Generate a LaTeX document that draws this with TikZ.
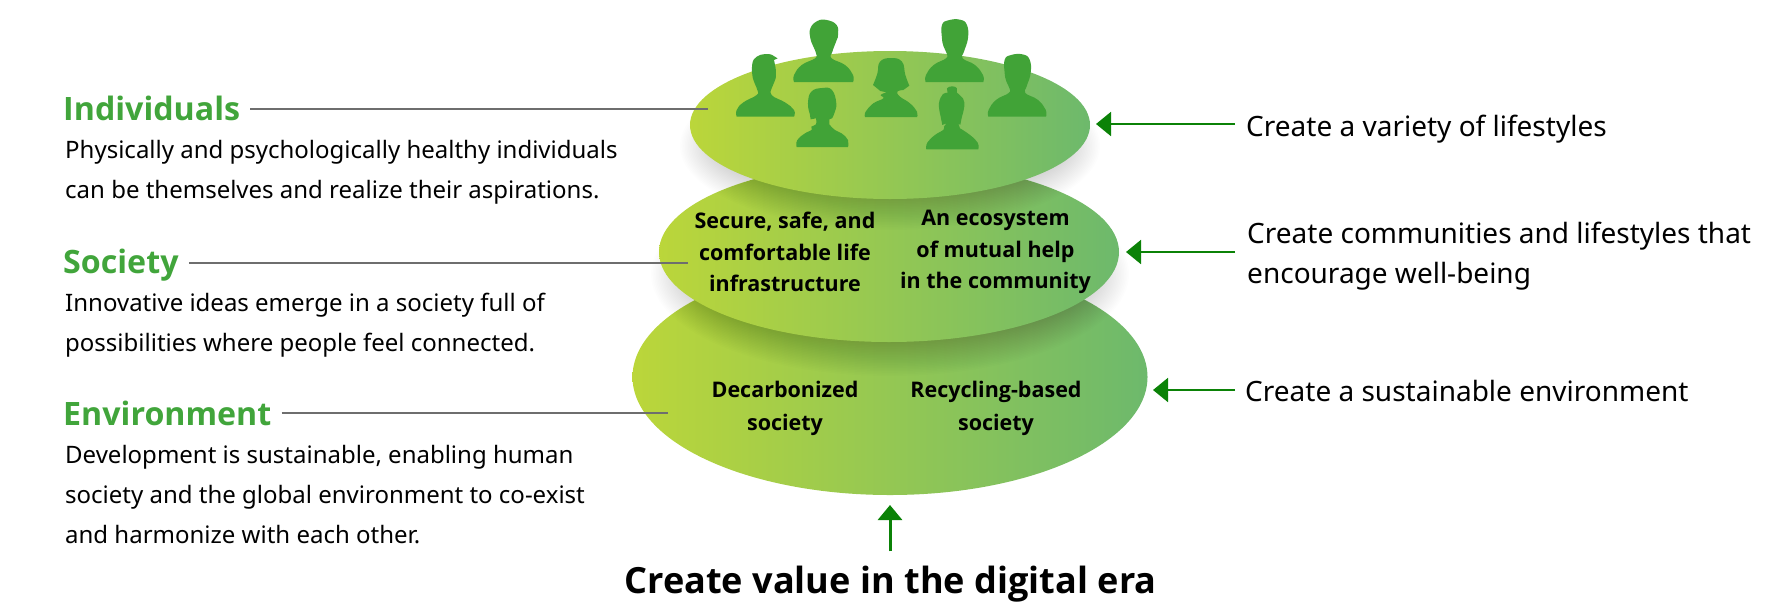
\documentclass[tikz,border=0pt]{standalone}
\usepackage{fontspec}
\setmainfont{Noto Sans}
\newfontfamily\bfam{Open Sans}
\usetikzlibrary{arrows.meta,shapes.geometric}
\definecolor{gL}{HTML}{BBD63A}
\definecolor{gR}{HTML}{6DB96C}
\definecolor{head}{HTML}{41A53B}
\definecolor{sil}{HTML}{41A337}
\definecolor{arrowG}{HTML}{0B8207}
\definecolor{lead}{HTML}{6E6E6E}
\tikzset{
  x=1pt,y=-1pt,
  disc/.style={ellipse,inner sep=0,left color=gL,right color=gR,shading angle=90},
  heading/.style={anchor=base west,inner sep=0,text=head,font=\bfam\fontsize{32.2}{36}\selectfont\bfseries},
  bodytxt/.style={anchor=north west,inner sep=0,align=left,font=\fontsize{24}{40}\selectfont},
  righttxt/.style={anchor=base west,inner sep=0,align=left,font=\fontsize{28}{40}\selectfont},
  disclabel/.style={anchor=center,inner sep=0,align=center,font=\bfam\fontsize{21.5}{31.4}\selectfont\bfseries},
  disclabelB/.style={anchor=center,inner sep=0,align=center,font=\bfam\fontsize{21.5}{33}\selectfont\bfseries},
  leader/.style={draw=lead,line width=1.3pt},
  arr/.style={draw=arrowG,line width=2pt,-{Triangle[length=15pt,width=24pt]}},
  smoothy/.style={smooth,tension=.75},
  pics/manA/.style={code={\fill[sil] plot[smoothy] coordinates {
     (-89,0) (-89,21) (-66,51) (-26,71) (-23,86) (-31,106) (-40,131) (-40,161) (-19,183) (9,186)
     (39,171) (43,141) (39,126) (26,91) (24,71) (64,51) (88,21) (88,0)} -- cycle;}},
  pics/manC/.style={code={\fill[sil] plot[smoothy] coordinates {
     (-86,0) (-85,21) (-62,51) (-25,71) (-23,86) (-32,106) (-37,131) (-37,171) (-18,185) (17,187)
     (38,171) (41,131) (29,91) (25,71) (62,51) (86,21) (87,0)} -- cycle;}},
  pics/manB/.style={code={\fill[sil] plot[smoothy] coordinates {
     (-85,0) (-85,20) (-65,43) (-25,65) (-23,80) (-31,100) (-38,125) (-38,160) (-25,180) (0,188) (20,186)} -- (38,175) -- (27,170)
     -- plot[smoothy] coordinates {(32,145) (32,115) (22,90) (20,65) (60,43) (87,20) (87,0)} -- cycle;}},
  pics/woman/.style={code={\fill[sil] plot[smoothy] coordinates {
     (-78,0) (-76,16) (-53,41) (-23,56) (-31,66) (-13,74)} -- (-32,78) -- (-54,96) -- plot[smoothy] coordinates {(-54,96) (-41,130) (-33,166) (0,177) (33,166) (43,126) (55,94)}
     -- plot[smoothy] coordinates {(37,81) (19,76) (27,61) (57,41) (78,16) (78,0)} -- cycle;}},
  pics/womanB/.style={code={\fill[sil] plot[smoothy] coordinates {
     (-77,0) (-75,21) (-52,41) (-32,51) (-33,61) (-19,68) (-19,86)} -- (-35,83) -- plot[smoothy] coordinates {(-38,101) (-43,131) (-33,166) (0,177) (29,171) (42,131) (36,101) (29,86)}
     -- (21,83) -- plot[smoothy] coordinates {(21,68) (38,51) (58,41) (77,21) (77,0)} -- cycle;}},
  pics/womanC/.style={code={\fill[sil] plot[smoothy] coordinates {
     (-78,0) (-75,20) (-52,43) (-27,58) (-25,68) (-17,78)} -- (-30,73) -- plot[smoothy] coordinates {(-36,103) (-40,138) (-28,166) (-14,170) (-16,183) (0,189) (14,183) (14,170) (32,153) (36,128) (29,98) (24,73)}
     -- (18,78) -- plot[smoothy] coordinates {(23,63) (53,43) (76,20) (78,0)} -- cycle;}},
  silh/.style={xscale=1/3,yscale=-1/3}
}
\newcommand{\softshadow}[5]{% cx cy rx ry spread
  \foreach \i in {0,...,29}{
    \fill[black,opacity=0.0068] (#1,#2) ellipse [x radius={#3+#5-\i*1.6pt},y radius={#4+#5-\i*1.6pt}];
  }}
\begin{document}
\begin{tikzpicture}
\useasboundingbox (0,0) rectangle (1780,614);
% discs
\node[disc,minimum width=515pt,minimum height=236pt] (botE) at (890,377) {};
\softshadow{890pt}{-274pt}{213pt}{76pt}{26pt}
\node[disc,minimum width=460pt,minimum height=180pt] (midE) at (889,252) {};
\softshadow{890pt}{-146pt}{184pt}{58pt}{26pt}
\node[disc,minimum width=400pt,minimum height=148pt] (topE) at (890,125) {};
% people
\pic at (765,116.7) [silh] {manB};
\pic at (823.7,82) [silh] {manA};
\pic at (891,117) [silh] {woman};
\pic at (954.3,82) [silh] {manC};
\pic at (1017,116.7) [silh] {manC};
\pic at (822.3,147) [silh] {womanB};
\pic at (952.3,149.3) [silh] {womanC};
% disc labels
\node[disclabel] (l1) at (785,252) {Secure, safe, and\\comfortable life\\infrastructure};
\node[disclabel] (l2) at (995.5,252) {An ecosystem\\of mutual help\\in the community};
\node[disclabelB] (l3) at (785,408.5) {Decarbonized\\society};
\node[disclabelB] (l4) at (996,408.5) {Recycling-based\\society};
% left texts
\node[heading] (hI) at (63,120) {Individuals};
\node[bodytxt] (bI) at (65,140) {Physically and psychologically healthy individuals\\can be themselves and realize their aspirations.};
\node[heading] (hS) at (63,273) {Society};
\node[bodytxt] (bS) at (65,292.5) {Innovative ideas emerge in a society full of\\possibilities where people feel connected.};
\node[heading] (hE) at (63,425) {Environment};
\node[bodytxt] (bE) at (65,445) {Development is sustainable, enabling human\\society and the global environment to co-exist\\and harmonize with each other.};
% leaders
\coordinate (pI) at (708,109);
\coordinate (pS) at (688,263);
\coordinate (pE) at (668,413);
\draw[leader] ([xshift=10pt]hI.east |- pI) -- (pI);
\draw[leader] ([xshift=10pt]hS.east |- pS) -- (pS);
\draw[leader] ([xshift=10pt]hE.east |- pE) -- (pE);
% right texts
\node[righttxt] (r1) at (1246,136) {Create a variety of lifestyles};
\node[righttxt] (r2) at (1247,243) {Create communities and lifestyles that};
\node[righttxt] (r2b) at (1247,283) {encourage well-being};
\node[righttxt] (r3) at (1245,401) {Create a sustainable environment};
\coordinate (t1) at (1096,124);
\coordinate (t2) at (1126,252);
\coordinate (t3) at (1153,390);
\draw[arr] ([xshift=-11pt]r1.west |- t1) -- (t1);
\draw[arr] ([xshift=-12pt]r2.west |- t2) -- (t2);
\draw[arr] ([xshift=-10pt]r3.west |- t3) -- (t3);
% bottom
\node[anchor=base,inner sep=0,font=\bfam\fontsize{36.1}{40}\selectfont\bfseries] (cv) at (890.5,593) {Create value in the digital era};
\coordinate (t4) at (890,505);
\draw[arr,line width=3pt] ([yshift=14pt]cv.north -| t4) -- (t4);
\end{tikzpicture}
\end{document}
